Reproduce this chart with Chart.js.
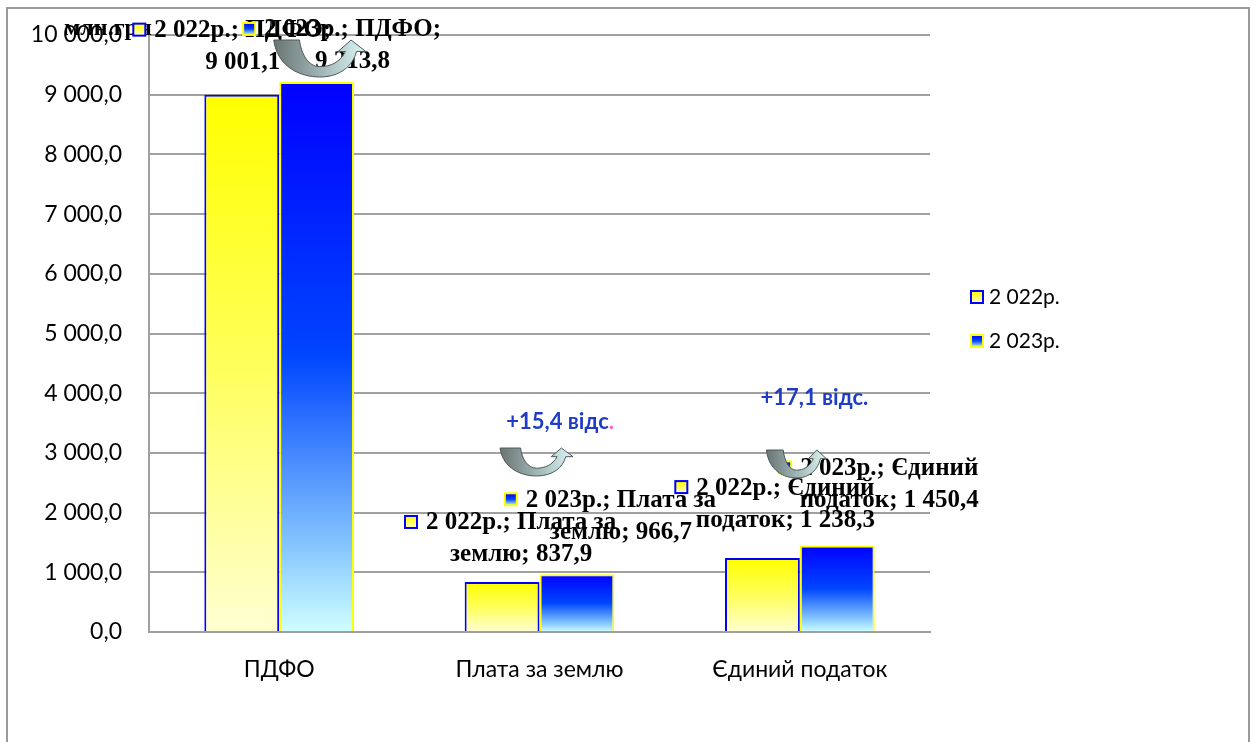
<!DOCTYPE html>
<html lang="uk">
<head>
<meta charset="UTF-8">
<title>Надходження податків</title>
<script src="https://cdn.jsdelivr.net/npm/chart.js"></script>
<style>
  html, body { margin: 0; padding: 0; background: #fff; }
  #wrap { width: 1254px; height: 742px; position: relative; }
</style>
</head>
<body>
<div id="wrap"><canvas id="grafik"></canvas></div>

<script>
// дані, млн.грн
const kategorii = ['ПДФО', 'Плата за землю', 'Єдиний податок'];
const roky = ['2\u00a0022р.', '2\u00a0023р.'];
const znach2022 = [9001.1, 837.9, 1238.3];
const znach2023 = [9213.8, 966.7, 1450.4];
const yTicks = [0, 1000, 2000, 3000, 4000, 5000, 6000, 7000, 8000, 9000, 10000];
// приріст показуємо лише для цих категорій
const zPryrostom = [1, 2];

const SANS = 'Lato, "Noto Sans", sans-serif';
const SERIF = '"Liberation Serif", "Times New Roman", serif';

function fmt(v) {
  const parts = v.toFixed(1).split('.');
  return parts[0].replace(/\B(?=(\d{3})+(?!\d))/g, '\u00a0') + ',' + parts[1];
}

// градієнт по висоті кожного стовпця
function zhovtyi(ctx, top, bottom) {
  const g = ctx.createLinearGradient(0, top, 0, bottom);
  g.addColorStop(0, '#ffff00');
  g.addColorStop(0.5, '#ffff5a');
  g.addColorStop(1, '#ffffd2');
  return g;
}
function synii(ctx, top, bottom) {
  const g = ctx.createLinearGradient(0, top, 0, bottom);
  g.addColorStop(0, '#0000ff');
  g.addColorStop(0.5, '#0046ff');
  g.addColorStop(0.85, '#88c8ff');
  g.addColorStop(1, '#d0ffff');
  return g;
}
function barFill(fn) {
  return function (c) {
    const chart = c.chart;
    const y = chart.scales.y;
    if (!y || !chart.chartArea || c.raw === undefined) return '#ffff00';
    const top = y.getPixelForValue(c.raw);
    const bottom = y.getPixelForValue(0);
    return fn(chart.ctx, top, bottom);
  };
}

// зсуви підписів від верху стовпця [dx, dy]
const pidpysZsuv = [
  [[1, -64], [19, -59], [23, -70]],
  [[36, -52], [44, -74], [52, -77]]
];
// стрілки: зсув від стовпця 2022 по x, верх, ширина, висота
const strilky = [
  [32, 40, 92, 37],
  [-2, 448, 73, 28],
  [4, 450, 60, 28]
];
const pryrostZsuv = [null, [58, 422], [52, 398]];

function wrapText(ctx, text, maxW) {
  const words = text.split(' ');
  const lines = [];
  let cur = '';
  words.forEach(w => {
    const t = cur ? cur + ' ' + w : w;
    if (ctx.measureText(t).width > maxW && cur) {
      lines.push(cur);
      cur = w;
    } else cur = t;
  });
  if (cur) lines.push(cur);
  return lines;
}

function kvadrat(ctx, x, y, s, i) {
  ctx.save();
  ctx.fillStyle = i === 0 ? zhovtyi(ctx, y, y + s) : synii(ctx, y, y + s);
  ctx.fillRect(x, y, s, s);
  ctx.lineWidth = 2;
  ctx.strokeStyle = i === 0 ? '#0000ff' : '#ffff00';
  ctx.strokeRect(x, y, s, s);
  ctx.restore();
}

function strilka(ctx, x, y, w, h) {
  const P = (u, v) => [x + u * w, y + v * h];
  ctx.save();
  ctx.beginPath();
  ctx.moveTo(...P(0, 0));
  ctx.bezierCurveTo(...P(0.04, 0.75), ...P(0.3, 1.0), ...P(0.5, 1.0));
  ctx.bezierCurveTo(...P(0.72, 1.0), ...P(0.86, 0.7), ...P(0.9, 0.31));
  ctx.lineTo(...P(1.0, 0.31));
  ctx.lineTo(...P(0.84, 0.0));
  ctx.lineTo(...P(0.7, 0.31));
  ctx.lineTo(...P(0.78, 0.31));
  ctx.bezierCurveTo(...P(0.72, 0.6), ...P(0.62, 0.72), ...P(0.5, 0.72));
  ctx.bezierCurveTo(...P(0.38, 0.72), ...P(0.3, 0.4), ...P(0.28, 0));
  ctx.closePath();
  const g = ctx.createLinearGradient(x, 0, x + w, 0);
  g.addColorStop(0, '#6a7474');
  g.addColorStop(0.5, '#9fb4b4');
  g.addColorStop(1, '#dcf6f6');
  ctx.fillStyle = g;
  ctx.fill();
  ctx.lineWidth = 1;
  ctx.strokeStyle = '#4e5858';
  ctx.stroke();
  ctx.restore();
}

const ramka = {
  id: 'ramka',
  beforeDraw(chart) {
    const ctx = chart.ctx;
    ctx.save();
    ctx.fillStyle = '#fff';
    ctx.fillRect(0, 0, chart.width, chart.height);
    ctx.strokeStyle = '#9a9a9a';
    ctx.lineWidth = 2;
    ctx.strokeRect(7, 8, 1242, 760);
    ctx.restore();
  }
};

const pidpysy = {
  id: 'pidpysy',
  afterDatasetsDraw(chart) {
    const ctx = chart.ctx;
    ctx.save();
    // одиниці виміру, під підписами
    ctx.font = 'bold 24px ' + SERIF;
    ctx.fillStyle = '#000';
    ctx.textBaseline = 'middle';
    ctx.fillText('млн.грн', 64, 29);

    ctx.font = 'bold 25px ' + SERIF;
    ctx.textAlign = 'center';
    chart.data.datasets.forEach((ds, i) => {
      const meta = chart.getDatasetMeta(i);
      meta.data.forEach((bar, j) => {
        const txt = ds.label + '; ' + kategorii[j] + '; ' + fmt(ds.data[j]);
        const lines = wrapText(ctx, txt, 215);
        const cx = bar.x + pidpysZsuv[i][j][0];
        const cy = bar.y + pidpysZsuv[i][j][1];
        lines.forEach((l, k) => ctx.fillText(l, cx, cy + k * 32));
        const w0 = ctx.measureText(lines[0]).width;
        kvadrat(ctx, cx - w0 / 2 - 21, cy - 7, 12, i);
      });
    });

    // приріст, відсотки
    const m0 = chart.getDatasetMeta(0);
    ctx.font = 'bold 22px ' + SANS;
    ctx.textAlign = 'left';
    zPryrostom.forEach(j => {
      const d = (znach2023[j] / znach2022[j] - 1) * 100;
      const txt = '+' + d.toFixed(1).replace('.', ',') + ' відс';
      const full = ctx.measureText(txt + '.').width;
      const x0 = m0.data[j].x + pryrostZsuv[j][0] - full / 2;
      const y0 = pryrostZsuv[j][1];
      ctx.fillStyle = '#1e3cc8';
      ctx.fillText(txt, x0, y0);
      ctx.fillStyle = j === 1 ? '#ff66cc' : '#1e3cc8';
      ctx.fillText('.', x0 + ctx.measureText(txt).width, y0);
    });

    strilky.forEach((s, j) => {
      strilka(ctx, m0.data[j].x + s[0], s[1], s[2], s[3]);
    });
    ctx.restore();
  },
  afterDraw(chart) {
    const ctx = chart.ctx;
    ctx.save();
    // легенда
    ctx.font = '21px ' + SANS;
    ctx.textBaseline = 'middle';
    roky.forEach((r, i) => {
      const y = 297 + i * 44;
      kvadrat(ctx, 971, y - 6, 12, i);
      ctx.fillStyle = '#000';
      ctx.fillText(r, 989, y);
    });
    ctx.restore();
  }
};

new Chart(document.getElementById('grafik'), {
  type: 'bar',
  data: {
    labels: kategorii,
    datasets: [
      {
        label: roky[0],
        data: znach2022,
        backgroundColor: barFill(zhovtyi),
        borderColor: '#0000ff',
        borderWidth: 2
      },
      {
        label: roky[1],
        data: znach2023,
        backgroundColor: barFill(synii),
        borderColor: '#ffff00',
        borderWidth: 2
      }
    ]
  },
  options: {
    responsive: true,
    maintainAspectRatio: false,
    animation: false,
    layout: { padding: { left: 0, right: 324, top: 35, bottom: 0 } },
    datasets: { bar: { categoryPercentage: 0.575, barPercentage: 1.0 } },
    plugins: {
      legend: { display: false },
      tooltip: { enabled: false }
    },
    scales: {
      x: {
        grid: { display: false },
        border: { color: '#a0a0a0', width: 2 },
        ticks: { color: '#000', padding: 16, font: { family: SANS, size: 23 } },
        afterFit(s) { s.height = 110; }
      },
      y: {
        min: 0,
        max: 10000,
        afterBuildTicks(s) { s.ticks = yTicks.map(v => ({ value: v })); },
        grid: { color: '#a0a0a0', lineWidth: 2, drawTicks: false },
        border: { color: '#a0a0a0', width: 2 },
        ticks: {
          color: '#000',
          padding: 27,
          font: { family: SANS, size: 23 },
          callback: v => fmt(v).replace(/\u00a0/g, ' ')
        },
        afterFit(s) {
          s.width = 149;
          s.paddingTop = 0;
          s.paddingBottom = 0;
        }
      }
    }
  },
  plugins: [ramka, pidpysy]
});
</script>
</body>
</html>
